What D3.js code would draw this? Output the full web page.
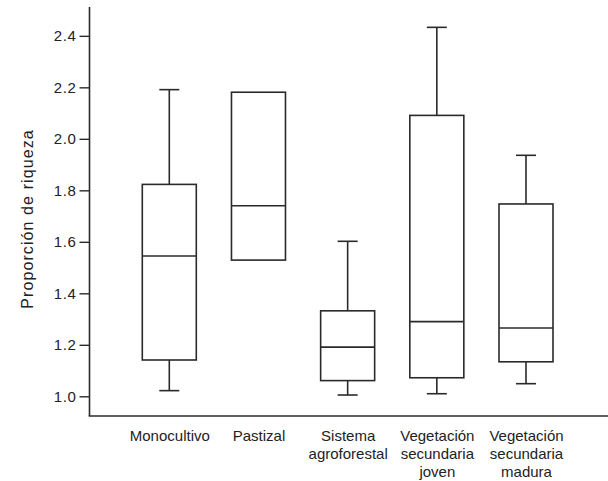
<!DOCTYPE html>
<html>
<head>
<meta charset="utf-8">
<script src="https://cdn.jsdelivr.net/npm/d3@7"></script>
<style>
  html, body { margin: 0; padding: 0; background: #fff; }
  svg { display: block; }
  text { font-family: "Liberation Sans", Arial, Helvetica, sans-serif; fill: #222; }
</style>
</head>
<body>
<script>
// ---- data ----
const categories = ["Monocultivo", "Pastizal", "Sistema agroforestal", "Vegetación secundaria joven", "Vegetación secundaria madura"];
const whiskerLow  = [1.022, 1.529, 1.005, 1.010, 1.049];
const quartile1   = [1.141, 1.529, 1.061, 1.072, 1.134];
const medians     = [1.545, 1.740, 1.191, 1.290, 1.265];
const quartile3   = [1.823, 2.181, 1.332, 2.091, 1.747];
const whiskerHigh = [2.191, 2.181, 1.602, 2.433, 1.936];
const yTicks = [1.0, 1.2, 1.4, 1.6, 1.8, 2.0, 2.2, 2.4];
const yTitle = "Proporción de riqueza";

const W = 608, H = 481;
const axisX = 89.5;
const svg = d3.select("body").append("svg").attr("width", W).attr("height", H);

const y = d3.scaleLinear().domain([0.9235, 2.512]).range([416, 7]);
const x = d3.scalePoint().domain(categories).range([169.3, 526]);
const boxW = 54, capW = 20;
const stroke = "#2a2a2a";

// y axis
const yAxis = d3.axisLeft(y).tickValues(yTicks).tickFormat(d3.format(".1f")).tickSize(10).tickPadding(3);
const gy = svg.append("g").attr("transform", `translate(${axisX},0)`).call(yAxis);
gy.select(".domain").remove();
gy.selectAll(".tick line").attr("stroke", stroke).attr("stroke-width", 1.4);
gy.selectAll(".tick text").attr("font-size", 15).style("letter-spacing", "0.6px").attr("fill", "#222");
// y axis line spanning the scale range
svg.append("line").attr("x1", axisX).attr("x2", axisX).attr("y1", y.range()[1]).attr("y2", y.range()[0])
  .attr("stroke", stroke).attr("stroke-width", 1.6);
// x axis line
svg.append("line").attr("x1", axisX - 0.8).attr("x2", W).attr("y1", y.range()[0]).attr("y2", y.range()[0])
  .attr("stroke", stroke).attr("stroke-width", 1.6);

// y title
svg.append("text")
  .attr("transform", `translate(33,219) rotate(-90)`)
  .attr("text-anchor", "middle")
  .attr("font-size", 16)
  .style("letter-spacing", "1.1px")
  .text(yTitle);

// x labels
const xAxis = d3.axisBottom(x).tickSize(0).tickFormat("");
const gx = svg.append("g").attr("transform", `translate(0,${y.range()[0]})`).call(xAxis);
gx.select(".domain").remove();
gx.selectAll(".tick").each(function(d) {
  const t = d3.select(this).append("text")
    .attr("text-anchor", "middle")
    .attr("font-size", 15)
    .attr("fill", "#222");
  d.split(" ").forEach((w, i) => {
    t.append("tspan").attr("x", 0).attr("y", 25 + i * 18).text(w);
  });
});

// boxes
const data = categories.map((c, i) => ({
  c, lo: whiskerLow[i], q1: quartile1[i], med: medians[i], q3: quartile3[i], hi: whiskerHigh[i]
}));
const g = svg.append("g").attr("fill", "none").attr("stroke", stroke).attr("stroke-width", 1.6);
data.forEach(d => {
  const cx = x(d.c);
  if (d.hi > d.q3) {
    g.append("line").attr("x1", cx).attr("x2", cx).attr("y1", y(d.q3)).attr("y2", y(d.hi));
    g.append("line").attr("x1", cx - capW / 2).attr("x2", cx + capW / 2).attr("y1", y(d.hi)).attr("y2", y(d.hi));
  }
  if (d.lo < d.q1) {
    g.append("line").attr("x1", cx).attr("x2", cx).attr("y1", y(d.q1)).attr("y2", y(d.lo));
    g.append("line").attr("x1", cx - capW / 2).attr("x2", cx + capW / 2).attr("y1", y(d.lo)).attr("y2", y(d.lo));
  }
  g.append("rect").attr("x", cx - boxW / 2).attr("width", boxW)
    .attr("y", y(d.q3)).attr("height", y(d.q1) - y(d.q3)).attr("fill", "#fff");
  g.append("line").attr("x1", cx - boxW / 2).attr("x2", cx + boxW / 2).attr("y1", y(d.med)).attr("y2", y(d.med));
});
</script>
</body>
</html>
